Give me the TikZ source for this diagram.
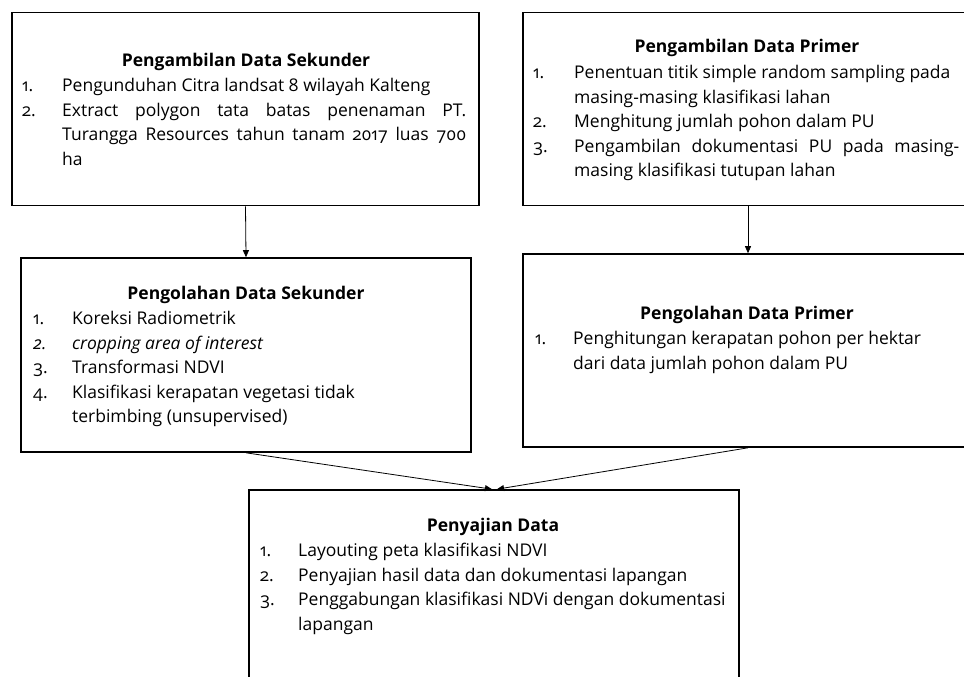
\documentclass[tikz,border=0pt]{standalone}
\usepackage{fontspec}
\setmainfont{Open Sans}[Numbers=OldStyle]
\usetikzlibrary{arrows.meta}
\newlength\lblw
\newcommand\itm[2]{\par\noindent\hangindent=\lblw\hangafter=1\makebox[\lblw][l]{#1}#2\par}
\tikzset{
  box/.style={draw=black, line width=1.6pt, rectangle, inner sep=0pt, fill=none},
  ttl/.style={font=\fontsize{17.5}{24.5}\selectfont\bfseries, inner sep=0pt, anchor=center},
  lst/.style={font=\fontsize{17.5}{24.5}\selectfont, inner sep=0pt, anchor=north west, align=justify},
  arr/.style={line width=0.8pt, -{Triangle[length=7pt,width=6pt]}}
}
\begin{document}
\begin{tikzpicture}[x=1pt,y=-1pt]
\useasboundingbox (0,0) rectangle (964,677);
\clip (0,0) rectangle (964,677);
% boxes
\node[box, minimum width=467pt, minimum height=193pt] (b1) at (245.5,109) {};
\node[box, minimum width=450pt, minimum height=193pt] (b2) at (748,109) {};
\node[box, minimum width=450pt, minimum height=194pt] (b3) at (246,355) {};
\node[box, minimum width=450pt, minimum height=193pt] (b4) at (748,350.5) {};
\node[box, minimum width=490pt, minimum height=210pt] (b5) at (494,595) {};
% titles
\node[ttl] (t1) at (246,62) {Pengambilan Data Sekunder};
\node[ttl] (t2) at (747,48) {Pengambilan Data Primer};
\node[ttl] (t3) at (246,295) {Pengolahan Data Sekunder};
\node[ttl] (t4) at (747,315) {Pengolahan Data Primer};
\node[ttl] (t5) at (493,527) {Penyajian Data};
% lists
\node[lst, text width=444pt] (l1) at (22,67) {\setlength\lblw{40pt}%
\itm{1.}{\strut Pengunduhan Citra landsat 8 wilayah Kalteng}
\itm{2.}{Extract polygon tata batas penenaman PT.\linebreak Turangga Resources tahun tanam 2017 luas 700\linebreak ha}};
\node[lst, text width=426pt] (l2) at (533,54) {\setlength\lblw{41pt}%
\itm{1.}{\strut\mbox{Penentuan titik simple random sampling pada}\newline \mbox{masing-masing klasifikasi lahan}}
\itm{2.}{Menghitung jumlah pohon dalam PU}
\itm{3.}{Pengambilan dokumentasi PU pada masing-\linebreak masing klasifikasi tutupan lahan}};
\node[lst, text width=430pt] (l3) at (33,300) {\setlength\lblw{39pt}%
\itm{1.}{\strut Koreksi Radiometrik}
\itm{\textit{2.}}{\textit{cropping area of interest}}
\itm{3.}{Transformasi NDVI}
\itm{4.}{\mbox{Klasifikasi kerapatan vegetasi tidak}\newline \mbox{terbimbing (unsupervised)}}};
\node[lst, text width=420pt] (l4) at (535,320) {\setlength\lblw{38pt}%
\itm{1.}{\strut\mbox{Penghitungan kerapatan pohon per hektar}\newline \mbox{dari data jumlah pohon dalam PU}}};
\node[lst, text width=475pt] (l5) at (260,532) {\setlength\lblw{38pt}%
\itm{1.}{\strut Layouting peta klasifikasi NDVI}
\itm{2.}{Penyajian hasil data dan dokumentasi lapangan}
\itm{3.}{\mbox{Penggabungan klasifikasi NDVi dengan dokumentasi}\newline \mbox{lapangan}}};
% connectors
\draw[arr] (b1.south) -- (b3.north);
\draw[arr] (b2.south) -- (b4.north);
\draw[arr] (b3.south) -- ([xshift=-2pt]b5.north);
\draw[arr] (b4.south) -- ([xshift=3pt]b5.north);
\end{tikzpicture}
\end{document}
